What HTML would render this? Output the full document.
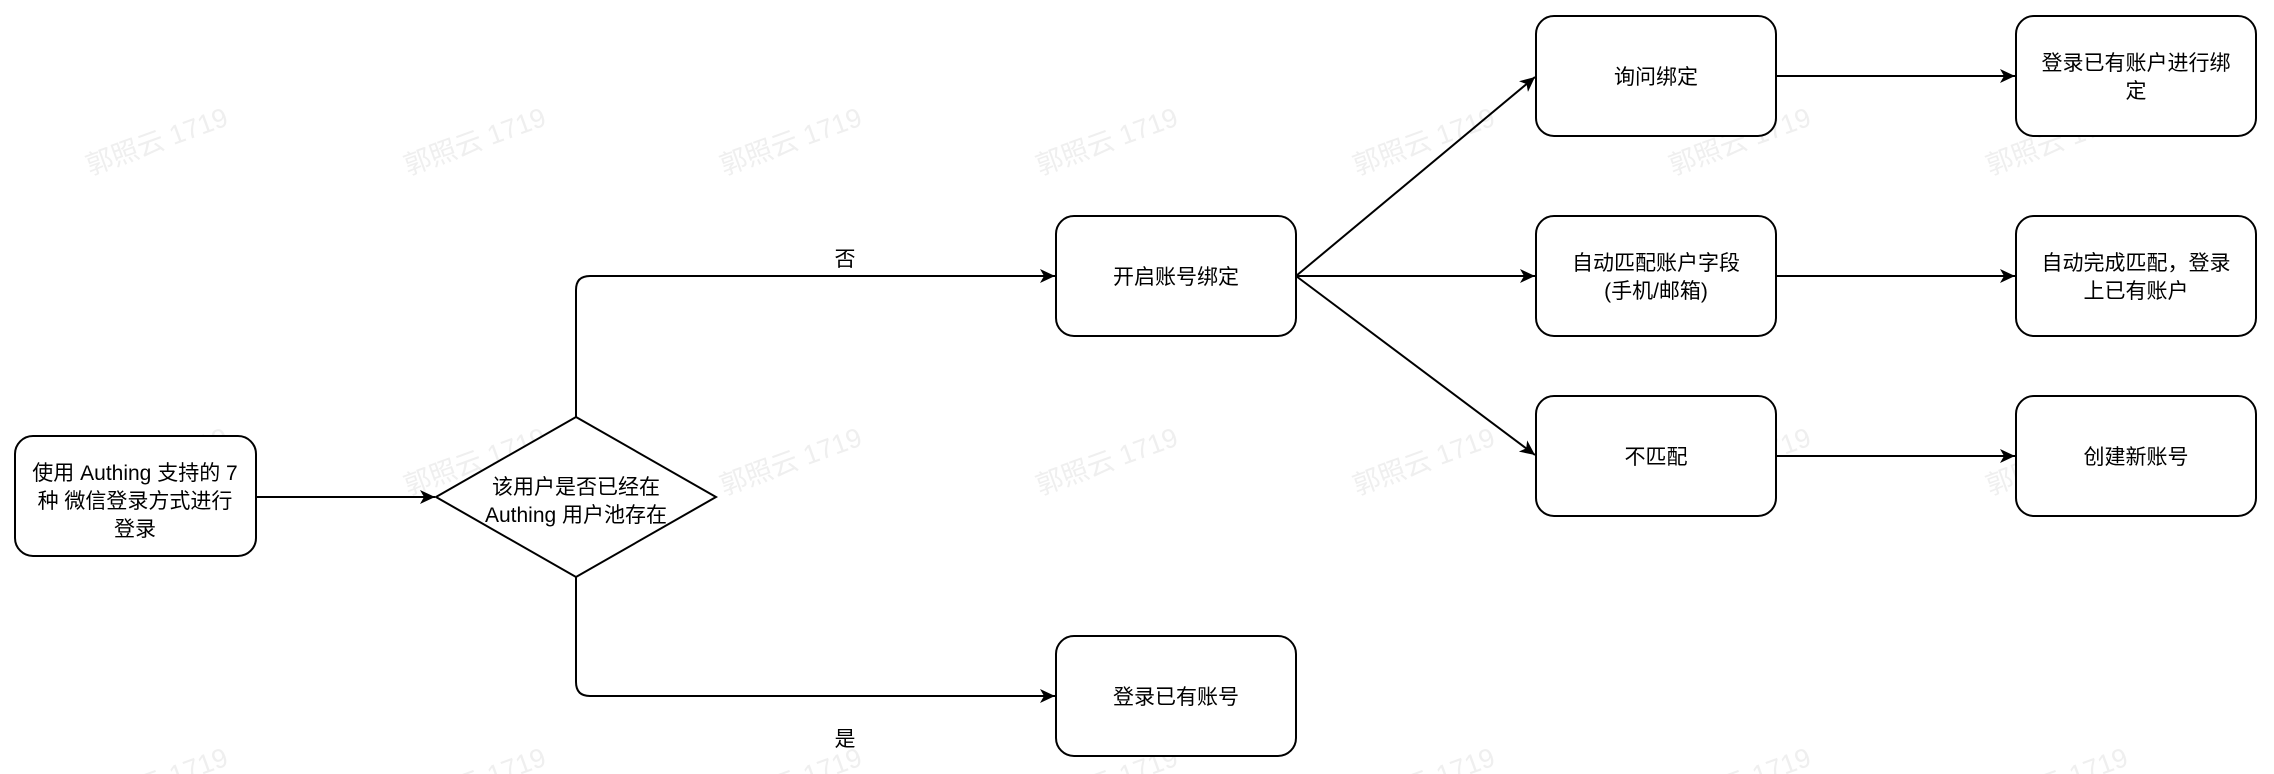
<!DOCTYPE html>
<html><head><meta charset="utf-8"><style>
html,body{margin:0;padding:0;background:#fff;width:2274px;height:774px;overflow:hidden;}
svg{display:block;}
text{font-family:"Liberation Sans","Noto Sans CJK SC",sans-serif;font-size:21px;fill:#000;}
.wm{font-size:27px;fill:#efefef;}
</style></head><body>
<svg width="2274" height="774" viewBox="0 0 2274 774" xmlns="http://www.w3.org/2000/svg">
<defs><marker id="a" markerWidth="16" markerHeight="14" refX="15" refY="7" orient="auto" markerUnits="userSpaceOnUse"><path d="M0,0 L15,7 L0,14 L4,7 Z" fill="#000"/></marker></defs>
<g>
<text class="wm" x="160" y="150" text-anchor="middle" transform="rotate(-20 160 150)">郭照云 1719</text>
<text class="wm" x="478" y="150" text-anchor="middle" transform="rotate(-20 478 150)">郭照云 1719</text>
<text class="wm" x="794" y="150" text-anchor="middle" transform="rotate(-20 794 150)">郭照云 1719</text>
<text class="wm" x="1110" y="150" text-anchor="middle" transform="rotate(-20 1110 150)">郭照云 1719</text>
<text class="wm" x="1427" y="150" text-anchor="middle" transform="rotate(-20 1427 150)">郭照云 1719</text>
<text class="wm" x="1743" y="150" text-anchor="middle" transform="rotate(-20 1743 150)">郭照云 1719</text>
<text class="wm" x="2060" y="150" text-anchor="middle" transform="rotate(-20 2060 150)">郭照云 1719</text>
<text class="wm" x="160" y="470" text-anchor="middle" transform="rotate(-20 160 470)">郭照云 1719</text>
<text class="wm" x="478" y="470" text-anchor="middle" transform="rotate(-20 478 470)">郭照云 1719</text>
<text class="wm" x="794" y="470" text-anchor="middle" transform="rotate(-20 794 470)">郭照云 1719</text>
<text class="wm" x="1110" y="470" text-anchor="middle" transform="rotate(-20 1110 470)">郭照云 1719</text>
<text class="wm" x="1427" y="470" text-anchor="middle" transform="rotate(-20 1427 470)">郭照云 1719</text>
<text class="wm" x="1743" y="470" text-anchor="middle" transform="rotate(-20 1743 470)">郭照云 1719</text>
<text class="wm" x="2060" y="470" text-anchor="middle" transform="rotate(-20 2060 470)">郭照云 1719</text>
<text class="wm" x="160" y="790" text-anchor="middle" transform="rotate(-20 160 790)">郭照云 1719</text>
<text class="wm" x="478" y="790" text-anchor="middle" transform="rotate(-20 478 790)">郭照云 1719</text>
<text class="wm" x="794" y="790" text-anchor="middle" transform="rotate(-20 794 790)">郭照云 1719</text>
<text class="wm" x="1110" y="790" text-anchor="middle" transform="rotate(-20 1110 790)">郭照云 1719</text>
<text class="wm" x="1427" y="790" text-anchor="middle" transform="rotate(-20 1427 790)">郭照云 1719</text>
<text class="wm" x="1743" y="790" text-anchor="middle" transform="rotate(-20 1743 790)">郭照云 1719</text>
<text class="wm" x="2060" y="790" text-anchor="middle" transform="rotate(-20 2060 790)">郭照云 1719</text>
</g>
<g fill="none" stroke="#000" stroke-width="2">
<path d="M256,497 L435,497" marker-end="url(#a)"/>
<path d="M576,417 L576,290 Q576,276 590,276 L1055,276" marker-end="url(#a)"/>
<path d="M576,577 L576,682 Q576,696 590,696 L1055,696" marker-end="url(#a)"/>
<path d="M1296,276 L1535,77" marker-end="url(#a)"/>
<path d="M1296,276 L1535,276" marker-end="url(#a)"/>
<path d="M1296,276 L1535,455" marker-end="url(#a)"/>
<path d="M1776,76 L2015,76" marker-end="url(#a)"/>
<path d="M1776,276 L2015,276" marker-end="url(#a)"/>
<path d="M1776,456 L2015,456" marker-end="url(#a)"/>
<rect x="15" y="436" width="241" height="120" rx="18" fill="#fff"/>
<polygon points="576,417 716,497 576,577 436,497" fill="#fff"/>
<rect x="1056" y="216" width="240" height="120" rx="18" fill="#fff"/>
<rect x="1056" y="636" width="240" height="120" rx="18" fill="#fff"/>
<rect x="1536" y="16" width="240" height="120" rx="18" fill="#fff"/>
<rect x="1536" y="216" width="240" height="120" rx="18" fill="#fff"/>
<rect x="1536" y="396" width="240" height="120" rx="18" fill="#fff"/>
<rect x="2016" y="16" width="240" height="120" rx="18" fill="#fff"/>
<rect x="2016" y="216" width="240" height="120" rx="18" fill="#fff"/>
<rect x="2016" y="396" width="240" height="120" rx="18" fill="#fff"/>
</g>
<g text-anchor="middle">
<text x="135" y="480">使用 Authing 支持的 7</text>
<text x="135" y="508">种 微信登录方式进行</text>
<text x="135" y="536">登录</text>
<text x="576" y="494">该用户是否已经在</text>
<text x="576" y="522">Authing 用户池存在</text>
<text x="845" y="266">否</text>
<text x="845" y="746">是</text>
<text x="1176" y="284">开启账号绑定</text>
<text x="1176" y="704">登录已有账号</text>
<text x="1656" y="84">询问绑定</text>
<text x="1656" y="270">自动匹配账户字段</text>
<text x="1656" y="298">(手机/邮箱)</text>
<text x="1656" y="464">不匹配</text>
<text x="2136" y="70">登录已有账户进行绑</text>
<text x="2136" y="98">定</text>
<text x="2136" y="270">自动完成匹配，登录</text>
<text x="2136" y="298">上已有账户</text>
<text x="2136" y="464">创建新账号</text>
</g>
</svg>
</body></html>
